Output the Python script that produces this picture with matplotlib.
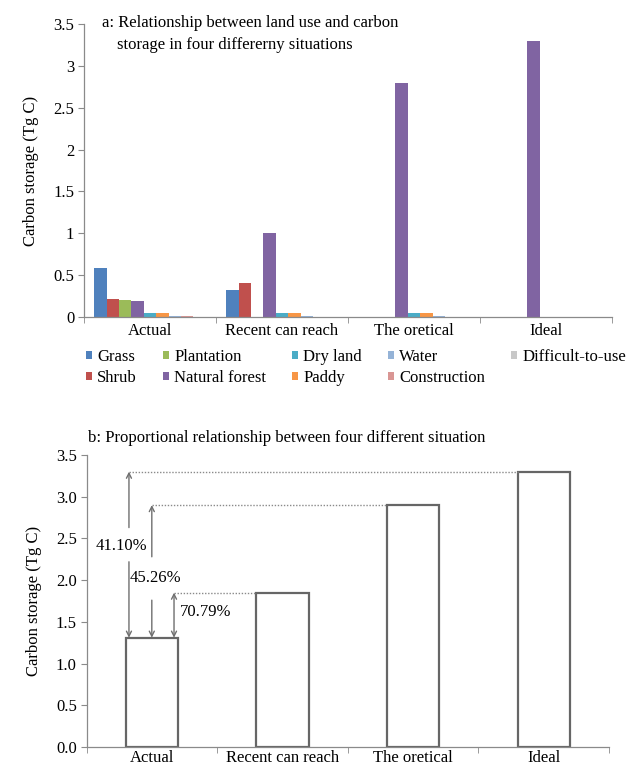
import matplotlib
matplotlib.use('Agg')
import matplotlib.pyplot as plt
import numpy as np
from matplotlib.ticker import FixedLocator, FuncFormatter

plt.rcParams['font.family'] = ['Liberation Serif', 'DejaVu Serif']
plt.rcParams['font.size'] = 12

# ---- data ----
situations = ['Actual', 'Recent can reach', 'The oretical', 'Ideal']
land_types = ['Grass', 'Shrub', 'Plantation', 'Natural forest', 'Dry land',
              'Paddy', 'Water', 'Construction', 'Difficult-to-use']
grass = [0.58, 0.32, 0, 0]
shrub = [0.21, 0.41, 0, 0]
plantation = [0.20, 0, 0, 0]
natural_forest = [0.19, 1.00, 2.80, 3.30]
dry_land = [0.045, 0.045, 0.045, 0]
paddy = [0.045, 0.045, 0.045, 0]
water = [0.01, 0.01, 0.01, 0]
construction = [0.008, 0.005, 0.005, 0]
difficult = [0.005, 0.005, 0.005, 0]
land_values = [grass, shrub, plantation, natural_forest, dry_land,
               paddy, water, construction, difficult]
land_colors = ['#4F81BD', '#C0504D', '#9BBB59', '#8064A2', '#4BACC6',
               '#F79646', '#95B3D7', '#D99694', '#C8C8C8']

totals = [1.31, 1.85, 2.90, 3.30]
ratio_labels = ['', '70.79%', '45.26%', '41.10%']

W, H = 635, 769
fig = plt.figure(figsize=(W / 100, H / 100), dpi=100)

def box(l, t, r, b):
    return [l / W, 1 - b / H, (r - l) / W, (b - t) / H]

axis_grey = '#8a8a8a'

def style(ax):
    for s in ['top', 'right']:
        ax.spines[s].set_visible(False)
    for s in ['left', 'bottom']:
        ax.spines[s].set_color(axis_grey)
        ax.spines[s].set_linewidth(0.9)
    ax.set_xlim(-0.5, 3.5)
    ax.set_ylim(0, 3.5)
    ax.set_yticks(np.arange(0, 3.51, 0.5))
    ax.xaxis.set_major_locator(FixedLocator(range(4)))
    ax.set_xticklabels(situations)
    ax.xaxis.set_minor_locator(FixedLocator([-0.5, 0.5, 1.5, 2.5, 3.5]))
    ax.tick_params(axis='x', which='major', length=0, pad=4)
    ax.tick_params(axis='x', which='minor', length=4, color=axis_grey)
    ax.tick_params(axis='y', length=4, color=axis_grey, pad=3)
    ax.set_ylabel('Carbon storage (Tg C)', labelpad=10)

# ---- chart a ----
ax1 = fig.add_axes(box(84, 24, 612, 317))
style(ax1)
ax1.yaxis.set_major_formatter(FuncFormatter(lambda v, p: f'{v:g}'))
x = np.arange(len(situations))
bw = 0.094
for k, (name, vals, col) in enumerate(zip(land_types, land_values, land_colors)):
    ax1.bar(x + (k - 4) * bw, vals, width=bw, color=col, label=name, linewidth=0)

fig.text(102 / W, 1 - 23 / H, 'a: Relationship between land use and carbon',
         va='center', ha='left')
fig.text(117 / W, 1 - 45 / H, 'storage in four differerny situations',
         va='center', ha='left')

leg = ax1.legend(ncol=5, loc='upper left', bbox_to_anchor=(86 / W, 1 - 349 / H),
                 bbox_transform=fig.transFigure, frameon=False,
                 handlelength=0.38, handleheight=0.38, handletextpad=0.3,
                 columnspacing=1.55, labelspacing=0.3, borderpad=0,
                 borderaxespad=0)

# ---- chart b ----
ax2 = fig.add_axes(box(86.5, 455, 609, 747))
style(ax2)
ax2.yaxis.set_major_formatter(FuncFormatter(lambda v, p: f'{v:.1f}'))
bwb = 0.4
ax2.bar(x, totals, width=bwb, facecolor='white', edgecolor='#666666', linewidth=1.6)
ax2.tick_params(axis='x', which='major', pad=2)

fig.text(88 / W, 1 - 438 / H,
         'b: Proportional relationship between four different situation',
         va='center', ha='left')

arrow_grey = '#6f6f6f'
base = totals[0]
arrow_x = [None, 0.17, 0.0, -0.175]
# gaps in the arrow shafts where the labels sit (upper end, lower end)
gaps = [None, None, (2.28, 1.76), (2.63, 2.22)]
label_pos = [None, (0.215, 1.62, 'left'), (-0.17, 2.03, 'left'), (-0.23, 2.41, 'center')]
for i in range(1, 4):
    ax_ = arrow_x[i]
    top = totals[i]
    ap = dict(color=arrow_grey, lw=1.0, shrinkA=0, shrinkB=0, mutation_scale=9)
    if gaps[i] is None:
        ax2.annotate('', xy=(ax_, top), xytext=(ax_, base),
                     arrowprops=dict(arrowstyle='<->', **ap))
    else:
        g_hi, g_lo = gaps[i]
        ax2.annotate('', xy=(ax_, top), xytext=(ax_, g_hi),
                     arrowprops=dict(arrowstyle='->', **ap))
        ax2.annotate('', xy=(ax_, base), xytext=(ax_, g_lo),
                     arrowprops=dict(arrowstyle='->', **ap))
    ax2.plot([ax_, i - bwb / 2], [top, top], color='#8a8a8a', lw=1.0,
             linestyle=(0, (1, 1.2)))
    lx, ly, ha = label_pos[i]
    ax2.text(lx, ly, ratio_labels[i], ha=ha, va='center')

fig.savefig('out.png', dpi=100)
